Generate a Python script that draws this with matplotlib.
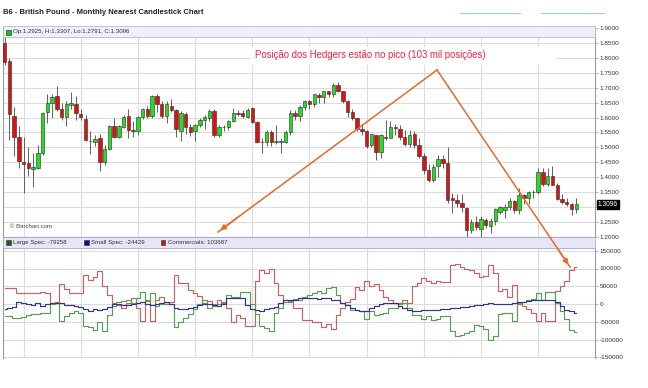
import numpy as np
import matplotlib
matplotlib.use("Agg")
import matplotlib.pyplot as plt
from matplotlib.patches import Rectangle

plt.rcParams['font.family'] = ['Liberation Sans', 'DejaVu Sans']

# -----------------------------
# Monthly OHLC, Sep 2008 .. Sep 2018 (B6 nearest)
# -----------------------------
opens = [1.849, 1.790, 1.605, 1.536, 1.450, 1.449, 1.427, 1.430, 1.480, 1.620,
         1.650, 1.672, 1.628, 1.601, 1.641, 1.645, 1.612, 1.594, 1.520, 1.519,
         1.533, 1.450, 1.494, 1.571, 1.534, 1.567, 1.605, 1.558, 1.556, 1.601,
         1.628, 1.605, 1.672, 1.645, 1.605, 1.640, 1.626, 1.556, 1.612, 1.570,
         1.556, 1.575, 1.592, 1.600, 1.623, 1.540, 1.569, 1.567, 1.588, 1.616,
         1.616, 1.603, 1.631, 1.586, 1.519, 1.519, 1.553, 1.519, 1.519, 1.519,
         1.550, 1.616, 1.606, 1.636, 1.655, 1.645, 1.675, 1.668, 1.688, 1.678,
         1.710, 1.690, 1.657, 1.620, 1.598, 1.562, 1.556, 1.507, 1.542, 1.484,
         1.535, 1.533, 1.570, 1.561, 1.534, 1.511, 1.544, 1.508, 1.472, 1.424,
         1.391, 1.438, 1.460, 1.447, 1.329, 1.324, 1.315, 1.296, 1.223, 1.251,
         1.227, 1.257, 1.237, 1.254, 1.285, 1.290, 1.301, 1.322, 1.290, 1.341,
         1.330, 1.352, 1.352, 1.419, 1.378, 1.403, 1.374, 1.327, 1.318, 1.311,
         1.2925]
highs = [1.870, 1.800, 1.636, 1.572, 1.536, 1.500, 1.480, 1.507, 1.620, 1.678,
         1.680, 1.706, 1.650, 1.655, 1.687, 1.672, 1.628, 1.610, 1.556, 1.542,
         1.545, 1.508, 1.575, 1.600, 1.575, 1.610, 1.628, 1.590, 1.605, 1.632,
         1.640, 1.677, 1.680, 1.655, 1.655, 1.661, 1.630, 1.622, 1.620, 1.578,
         1.580, 1.597, 1.608, 1.630, 1.628, 1.575, 1.575, 1.592, 1.631, 1.625,
         1.625, 1.631, 1.635, 1.590, 1.530, 1.560, 1.560, 1.575, 1.530, 1.560,
         1.625, 1.625, 1.642, 1.660, 1.660, 1.680, 1.682, 1.688, 1.690, 1.715,
         1.720, 1.690, 1.660, 1.630, 1.600, 1.578, 1.560, 1.545, 1.543, 1.545,
         1.592, 1.590, 1.580, 1.575, 1.560, 1.557, 1.555, 1.530, 1.480, 1.445,
         1.445, 1.475, 1.475, 1.500, 1.348, 1.345, 1.345, 1.300, 1.260, 1.270,
         1.270, 1.262, 1.262, 1.298, 1.305, 1.310, 1.330, 1.325, 1.365, 1.345,
         1.355, 1.356, 1.432, 1.430, 1.430, 1.438, 1.380, 1.345, 1.330, 1.313,
         1.3307]
lows = [1.775, 1.525, 1.470, 1.432, 1.348, 1.404, 1.367, 1.428, 1.475, 1.581,
        1.598, 1.622, 1.592, 1.572, 1.630, 1.592, 1.592, 1.520, 1.478, 1.505,
        1.422, 1.440, 1.490, 1.532, 1.530, 1.565, 1.530, 1.534, 1.540, 1.595,
        1.599, 1.600, 1.620, 1.600, 1.581, 1.620, 1.534, 1.522, 1.545, 1.538,
        1.523, 1.570, 1.561, 1.590, 1.535, 1.535, 1.555, 1.560, 1.585, 1.605,
        1.598, 1.598, 1.581, 1.514, 1.480, 1.505, 1.505, 1.510, 1.480, 1.515,
        1.540, 1.592, 1.590, 1.625, 1.628, 1.635, 1.648, 1.648, 1.668, 1.670,
        1.685, 1.650, 1.603, 1.592, 1.555, 1.540, 1.497, 1.500, 1.458, 1.464,
        1.525, 1.530, 1.540, 1.525, 1.505, 1.500, 1.498, 1.465, 1.410, 1.385,
        1.385, 1.402, 1.430, 1.313, 1.279, 1.300, 1.285, 1.199, 1.215, 1.222,
        1.199, 1.230, 1.215, 1.240, 1.278, 1.265, 1.290, 1.280, 1.278, 1.310,
        1.310, 1.330, 1.345, 1.370, 1.370, 1.375, 1.325, 1.310, 1.305, 1.275,
        1.2791]
closes = [1.787, 1.612, 1.536, 1.456, 1.445, 1.432, 1.436, 1.480, 1.614, 1.648,
          1.668, 1.628, 1.601, 1.645, 1.648, 1.616, 1.601, 1.525, 1.522, 1.528,
          1.450, 1.494, 1.571, 1.534, 1.571, 1.601, 1.558, 1.556, 1.601, 1.628,
          1.605, 1.672, 1.645, 1.605, 1.645, 1.626, 1.561, 1.614, 1.569, 1.550,
          1.575, 1.592, 1.601, 1.623, 1.540, 1.567, 1.568, 1.588, 1.614, 1.613,
          1.605, 1.625, 1.586, 1.519, 1.517, 1.553, 1.519, 1.521, 1.522, 1.550,
          1.616, 1.606, 1.636, 1.657, 1.645, 1.678, 1.668, 1.688, 1.678, 1.710,
          1.690, 1.657, 1.620, 1.600, 1.562, 1.556, 1.505, 1.544, 1.484, 1.542,
          1.533, 1.570, 1.565, 1.534, 1.511, 1.542, 1.508, 1.472, 1.424, 1.391,
          1.436, 1.460, 1.447, 1.324, 1.324, 1.315, 1.300, 1.223, 1.251, 1.233,
          1.259, 1.240, 1.254, 1.293, 1.300, 1.301, 1.322, 1.290, 1.341, 1.330,
          1.352, 1.352, 1.417, 1.378, 1.403, 1.375, 1.327, 1.318, 1.311, 1.293,
          1.3096]

# -----------------------------
# COT positions (monthly)
# -----------------------------
large_spec = [-34000, -34000, -39000, -39000, -36000, -30000, -29000, -27000, -26000, -26000,
              0, 3000, -49000, -35000, -25000, -20000, -25000, -63000, -66000, -72000,
              -50000, -76000, -30000, -6000, 5000, 8000, 12000, 2000, 16000, 33000,
              8000, 30000, -5000, 0, 5000, 0, -65000, -50000, -40000, -28000,
              -14000, 0, 12000, -10000, -5000, 0, 3000, 24000, 20000, 20000,
              33000, 33000, 0, -28000, -63000, -68000, -76000, -25000, -10000, 10000,
              8000, 13000, 12000, 21000, 25000, 31000, 38000, 30000, 44000, 49000,
              25000, 2000, -2000, -18000, -18000, -20000, -41000, -20000, -32000, -28000,
              -24000, -11000, -11000, 0, 2000, -10000, -30000, -30000, -41000, -34000,
              -44000, -42000, -35000, -35000, -76000, -90000, -86000, -82000, -76000, -58000,
              -62000, -70000, -100000, -90000, -28000, -25000, -25000, -48000, 2000, 6000,
              12000, 14000, 30000, 12000, 33000, 33000, 2000, -20000, -41000, -72000,
              -79258]
small_spec = [-15000, -12000, -8000, 5000, 3000, 0, -2000, 2000, -5000, 0,
              2000, 3000, 2000, -2000, -4000, -6000, -8000, -15000, -19000, -15000,
              -16000, -15000, -8000, 0, 0, -2000, -3000, -1000, 2000, 5000,
              1000, -3000, 1000, 4000, 5000, 0, -10000, -15000, -14000, -12000,
              -8000, -3000, 0, 0, -3000, -5000, 0, 16000, 16000, 18000,
              18000, -2000, -14000, -18000, -19000, -14000, -12000, -9000, 2000, 10000,
              10000, 12000, 18000, 18000, 18000, 16000, 15000, 18000, 17000, 12000,
              10000, 2000, -4000, -12000, -16000, -19000, -19000, -10000, -6000, 0,
              3000, 4000, 2000, -5000, -10000, -16000, -19000, -20000, -18000, -17000,
              -17000, -16000, -14000, -14000, -12000, -10000, -9000, -8000, -6000, -4000,
              -2000, 0, 2000, 0, 0, 0, 0, 3000, 5000, 6000,
              8000, 10000, 10000, 11000, 12000, 12000, 6000, -5000, -16000, -20000,
              -24429]
commercials = [46000, 46000, 46000, 30000, 30000, 30000, 32000, 30000, 33000, 30000,
               3000, 5000, 55000, 43000, 30000, 32000, 30000, 82000, 68000, 75000,
               94000, 52000, 26000, 2000, -3000, -10000, 2000, 17000, -12000, -48000,
               10000, -48000, 12000, 21000, 0, 6000, 82000, 59000, 60000, 40000,
               32000, 22000, 4000, 8000, 0, 10000, 7000, -10000, -50000, -32000,
               -40000, -63000, -63000, 64000, 95000, 88000, 100000, 60000, 25000, 5000,
               5000, -10000, -10000, -45000, -45000, -50000, -52000, -65000, -55000, -70000,
               -32000, -10000, 5000, 14000, 47000, 40000, 65000, 50000, 57000, 40000,
               20000, 10000, 4000, 2000, 10000, 4000, 50000, 60000, 72000, 66000,
               58000, 66000, 62000, 62000, 110000, 114000, 105000, 100000, 96000, 86000,
               75000, 80000, 110000, 88000, 36000, 42000, 21000, 54000, 1000, -5000,
               -15000, -25000, -49000, -25000, -49000, -49000, 37000, 50000, 64000, 97000,
               103687]

price_ticks = np.arange(1.20, 1.9001, 0.05)
pos_ticks = np.arange(-150000, 150001, 50000)
year_starts = np.arange(4, 121, 12)   # January candles

W, H = 648, 388


def fx(px):
    return px / W


def fy(py):
    return 1 - py / H


fig = plt.figure(figsize=(W / 100, H / 100), dpi=100)
fig.patch.set_facecolor('white')

grid_c = '#dcdcdc'
spine_c = '#9a9a9a'
n = len(closes)
x = np.arange(n)
xlim = ((3 - 4.5) / 4.765, (595 - 4.5) / 4.765)

# -----------------------------
# Price panel
# -----------------------------
ax = fig.add_axes([fx(3), fy(237), fx(592), (237 - 26) / H])
ax.set_xlim(*xlim)
ax.set_ylim(1.2, 1.9 + 2 * 0.05 / 14.93)
for t in price_ticks:
    ax.axhline(t, color=grid_c, lw=0.8, zorder=0)
for xs in year_starts:
    ax.axvline(xs, color=grid_c, lw=0.8, zorder=0)

o = np.array(opens)
c = np.array(closes)
up = c >= o
ax.vlines(x, lows, highs, color='#606060', lw=0.7, zorder=2)
ax.bar(x[up], (c - o)[up], bottom=o[up], width=0.72, color='#22dd22',
       edgecolor='#2b2b2b', lw=0.4, zorder=3)
ax.bar(x[~up], (c - o)[~up], bottom=o[~up], width=0.72, color='#dd1111',
       edgecolor='#2b2b2b', lw=0.4, zorder=3)

ax.yaxis.tick_right()
ax.set_yticks(price_ticks)
# the 1.3000 label is hidden behind the last-price box
price_labels = ['' if abs(t - 1.30) < 1e-9 else '%.4f' % t for t in price_ticks]
ax.set_yticklabels(price_labels, fontsize=4.6, color='#333333')
ax.tick_params(axis='y', length=2, width=0.5, color=spine_c, pad=1.5)
ax.set_xticks([])
ax.spines['top'].set_visible(False)
for s in ['left', 'right', 'bottom']:
    ax.spines[s].set_color(spine_c)
    ax.spines[s].set_linewidth(0.8)

ax.text(0.012, 0.04, '\u00a9 Barchart.com', transform=ax.transAxes,
        fontsize=4.3, color='#444444', va='bottom')

# last price marker
ax.text(1.005, closes[-1], '%.4f' % closes[-1], transform=ax.get_yaxis_transform(),
        fontsize=4.8, color='white', va='center', ha='left', clip_on=False,
        bbox=dict(boxstyle='square,pad=0.15', fc='black', ec='black'))

# -----------------------------
# COT panel
# -----------------------------
ax2 = fig.add_axes([fx(3), fy(358), fx(592), (358 - 248) / H])
ax2.set_xlim(*xlim)
ax2.set_ylim((304 - 358) / 35.5 * 1e5, (304 - 248) / 35.5 * 1e5)
for t in pos_ticks:
    ax2.axhline(t, color=grid_c, lw=0.8, zorder=0)
for xs in year_starts:
    ax2.axvline(xs, color=grid_c, lw=0.8, zorder=0)

ax2.step(x, commercials, where='mid', color='#c46464', lw=0.85, zorder=3)
ax2.step(x, large_spec, where='mid', color='#56a056', lw=0.85, zorder=3)
ax2.step(x, small_spec, where='mid', color='#34348a', lw=0.85, zorder=4)

ax2.yaxis.tick_right()
ax2.set_yticks(pos_ticks)
ax2.set_yticklabels(['%d' % t for t in pos_ticks], fontsize=4.6, color='#333333')
ax2.tick_params(axis='y', length=2, width=0.5, color=spine_c, pad=1.5)
ax2.set_xticks([])
for s in ['top', 'bottom']:
    ax2.spines[s].set_visible(False)
for s in ['left', 'right']:
    ax2.spines[s].set_color(spine_c)
    ax2.spines[s].set_linewidth(0.8)

# -----------------------------
# Header bands and legend
# -----------------------------
fig.text(fx(3), fy(12), 'B6 - British Pound - Monthly Nearest Candlestick Chart',
         fontsize=5.5, fontweight='bold', color='#222222', va='center')
for x0, x1 in [(460, 520), (541, 604)]:
    fig.add_artist(plt.Line2D([fx(x0), fx(x1)], [fy(13), fy(13)], color='#a9c8ee', lw=0.8))

fig.add_artist(Rectangle((fx(3), fy(37)), fx(592), 11 / H, facecolor='#eeeefc',
                         edgecolor='#b8b8d8', lw=0.6, zorder=5))
fig.add_artist(Rectangle((fx(6), fy(34.5)), fx(4.5), 4.5 / H, facecolor='#22bb22',
                         edgecolor='#1a4d1a', lw=0.5, zorder=6))
fig.text(fx(13), fy(31.5), 'Op:1.2925, H:1.3307, Lo:1.2791, C:1.3096',
         fontsize=4.4, color='#333333', va='center', zorder=7)

fig.add_artist(Rectangle((fx(3), fy(248)), fx(592), 11 / H, facecolor='#e6e6f8',
                         edgecolor='#a8a8c8', lw=0.6, zorder=5))
legend_items = [('Large Spec: -79258', '#1c5c1c', 6),
                ('Small Spec: -24429', '#10107a', 84),
                ('Commercials: 103687', '#c01818', 161)]
for label, col, lx in legend_items:
    fig.add_artist(Rectangle((fx(lx), fy(244.5)), fx(4.5), 4.5 / H, facecolor=col,
                             edgecolor='#333333', lw=0.4, zorder=6))
    fig.text(fx(lx + 7), fy(242.5), label, fontsize=4.4, color='#333333',
             va='center', zorder=7)

# -----------------------------
# Annotation (hedgers at the peak)
# -----------------------------
fig.add_artist(Rectangle((fx(250), fy(65)), fx(307), 18 / H, facecolor='white',
                         edgecolor='none', zorder=5))
fig.text(fx(255), fy(55), 'Posição dos Hedgers estão no pico (103 mil posições)',
         fontsize=6.9, color='#f2243e', va='center', zorder=6)

orange = '#e8692a'
peak = (fx(437), fy(70))
for tip in [(fx(218), fy(232)), (fx(570), fy(267))]:
    fig.add_artist(plt.Line2D([peak[0], tip[0]], [peak[1], tip[1]], color=orange, lw=1.1, zorder=8))
    fig.add_artist(matplotlib.patches.FancyArrowPatch(
        (peak[0] + (tip[0] - peak[0]) * 0.9, peak[1] + (tip[1] - peak[1]) * 0.9), tip,
        transform=fig.transFigure, arrowstyle='-|>', mutation_scale=8,
        color=orange, lw=1.1, zorder=8))

fig.savefig('out.png', dpi=100, facecolor='white')
